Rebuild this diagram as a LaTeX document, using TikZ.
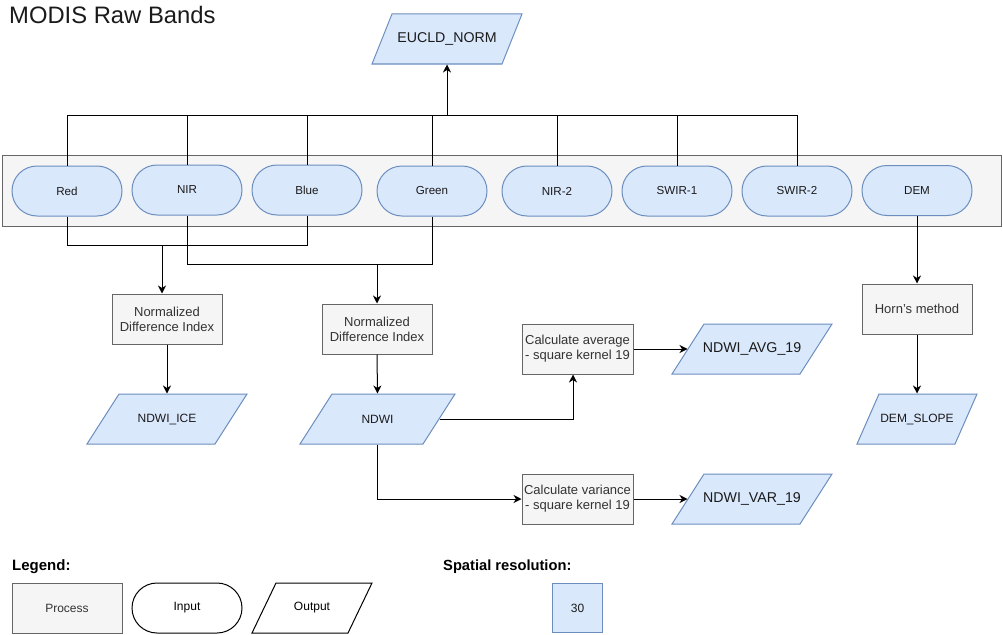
\documentclass[tikz,border=0pt]{standalone}
\usepackage{fontspec}
\setmainfont{Liberation Sans}
\usetikzlibrary{arrows.meta}

\definecolor{bandfill}{HTML}{DAE8FC}
\definecolor{bandline}{HTML}{6C8EBF}
\definecolor{procfill}{HTML}{F5F5F5}
\definecolor{procline}{HTML}{666666}
\definecolor{proctext}{HTML}{333333}
\definecolor{darktext}{HTML}{1A1A1A}

\newcommand{\fsz}[2]{\fontsize{#1pt}{#2pt}\selectfont}

% parallelogram output node: style, name, centre x, centre y, width, skew, label
\newcommand{\outpara}[7]{%
  \path[#1] ({#3-#5/2+#6},{#4-25}) -- ({#3+#5/2},{#4-25})
        -- ({#3+#5/2-#6},{#4+25}) -- ({#3-#5/2},{#4+25}) -- cycle;
  \node[#1, draw=none, fill=none, minimum width=#5, minimum height=50] (#2) at (#3,#4) {#7};
}

\tikzset{
  band/.style={draw=bandline, fill=bandfill, line width=1pt, rounded corners=25pt,
    minimum width=110, minimum height=50, inner sep=0pt, text=darktext, font=\fsz{11.6}{14}},
  proc/.style={draw=procline, fill=procfill, line width=1pt, minimum width=110,
    minimum height=50, inner sep=1pt, text=proctext, align=center, font=\fsz{13}{15}},
  outp/.style={draw=bandline, fill=bandfill, line width=1pt, text=darktext, font=\fsz{12}{14}},
  outbig/.style={outp, font=\fsz{14.2}{16}},
  legout/.style={draw=black, fill=white, line width=1pt, text=black, font=\fsz{12}{14}},
  conn/.style={draw=black, line width=1pt},
  arr/.style={conn, -{Stealth[length=8pt, width=8pt, inset=2.5pt]}},
}

\begin{document}
\begin{tikzpicture}[x=1pt, y=-1pt]
  \useasboundingbox (0,0) rectangle (1003,634);
  \fill[white] (0,0) rectangle (1003,634);

  % title
  \node[anchor=base west, inner sep=0pt, font=\fsz{23.8}{28}, text=darktext] (title) at (9,23.3) {MODIS Raw Bands};

  % band container
  \node[draw=procline, fill=procfill, line width=1pt, minimum width=999, minimum height=71, inner sep=0pt] (container) at (501.5,190.5) {};

  % input bands
  \node[band] (red)   at (67,191)  {Red};
  \node[band] (nir)   at (187,190) {NIR};
  \node[band] (blue)  at (307,190) {Blue};
  \node[band] (green) at (432,191) {Green};
  \node[band] (nir2)  at (557,191) {NIR-2};
  \node[band] (swir1) at (677,191) {SWIR-1};
  \node[band] (swir2) at (797,191) {SWIR-2};
  \node[band] (dem)   at (917,190.5) {DEM};

  % outputs
  \outpara{outbig}{eucld}{447}{39}{150}{20}{EUCLD\_NORM}
  \outpara{outp}{ndwiice}{167}{419}{160}{32}{NDWI\_ICE}
  \outpara{outp}{ndwi}{377.5}{419}{155}{32}{NDWI}
  \outpara{outbig}{ndwiavg}{752}{349}{160}{32}{NDWI\_AVG\_19}
  \outpara{outbig}{ndwivar}{752}{499}{160}{32}{NDWI\_VAR\_19}
  \outpara{outp}{demslope}{917}{419}{120}{22}{DEM\_SLOPE}

  % processes
  \node[proc] (ndi1) at (167,319) {Normalized\\Difference Index};
  \node[proc] (ndi2) at (377,329) {Normalized\\Difference Index};
  \node[proc, minimum width=111] (avg) at (577.5,349) {Calculate average\\- square kernel 19};
  \node[proc, minimum width=111] (var) at (577.5,499) {Calculate variance\\- square kernel 19};
  \node[proc] (horn) at (917,309) {Horn's method};

  % all bands feed the euclidean norm
  \coordinate (hub) at (447,115);
  \foreach \b in {red,nir,blue,green,nir2,swir1,swir2}
    \draw[conn] (\b.north) |- (hub);
  \draw[arr] (hub) -- (eucld.south);

  % red + blue
  \coordinate (rb) at (162,245);
  \draw[conn] (red.south) |- (rb);
  \draw[conn] (blue.south) |- (rb);
  \draw[arr] (rb) -- (rb |- ndi1.north);

  % nir + green
  \coordinate (ng) at (377,264);
  \draw[conn] (nir.south) |- (ng);
  \draw[conn] (green.south) |- (ng);
  \draw[arr] (ng) -- (ndi2.north);

  \draw[arr] (ndi1.south) -- (ndwiice.north);
  \draw[arr] (ndi2.south) -- (ndwi.north);

  % neighbourhood statistics of NDWI
  \draw[arr] ([xshift=-16pt]ndwi.east) -| ([xshift=-4.5pt]avg.south);
  \draw[arr] (ndwi.south) |- (var.west);
  \draw[arr] (avg.east) -- ([xshift=16pt]ndwiavg.west);
  \draw[arr] (var.east) -- ([xshift=16pt]ndwivar.west);

  % slope from DEM
  \draw[arr] (dem.south) -- (horn.north);
  \draw[arr] (horn.south) -- (demslope.north);

  % legend
  \node[anchor=base west, inner sep=0pt, font=\bfseries\fsz{15}{18}, text=black] (leglabel) at (12,570.7) {Legend:};
  \node[proc, font=\fsz{12}{14}] (legproc) at (67,608) {Process};
  \node[band, draw=black, fill=white, text=black, font=\fsz{12}{14}] (legin) at (187,608) {Input};
  \outpara{legout}{legoutp}{312}{608}{120}{24}{Output}

  \node[anchor=base west, inner sep=0pt, font=\bfseries\fsz{14.7}{18}, text=black] (reslabel) at (443,570.7) {Spatial resolution:};
  \node[draw=bandline, fill=bandfill, line width=1pt, minimum width=49.5, minimum height=49.5,
        inner sep=0pt, text=darktext, font=\fsz{12}{14}] (res) at (577.5,608) {30};
\end{tikzpicture}
\end{document}
